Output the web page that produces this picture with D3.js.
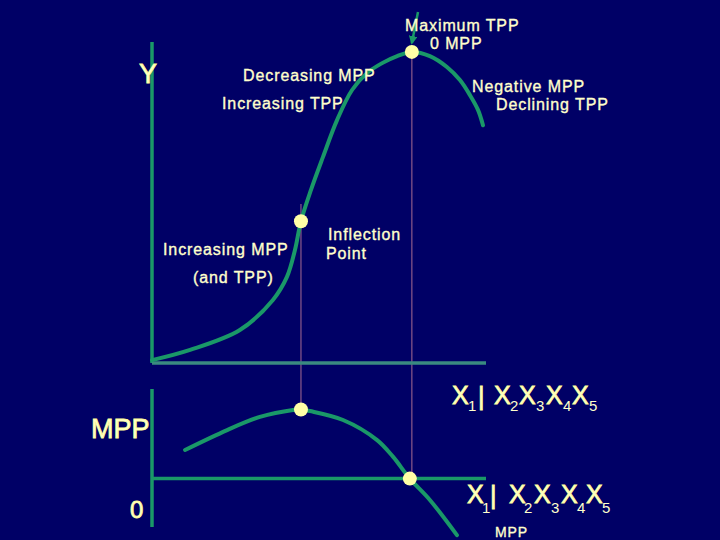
<!DOCTYPE html>
<html>
<head>
<meta charset="utf-8">
<script src="https://cdn.jsdelivr.net/npm/d3@7"></script>
<style>
  html, body { margin:0; padding:0; background:#000066; }
  svg { display:block; }
  text { font-family: Arial, "Liberation Sans", sans-serif; fill:#ffffcc; }
</style>
</head>
<body>
<svg id="chart" width="720" height="540"></svg>
<script>
// --- data (input units 0..10, TPP 0..100, MPP -27..50) ----------------------
const tppX = [0, 1.14, 2.63, 3.62, 4.04, 4.28, 4.46, 4.76, 5.12, 5.54, 5.99, 6.44, 6.89, 7.34, 7.78, 8.32, 8.83, 9.22, 9.52, 9.76, 9.91];
const tppY = [0.6, 3.8, 10, 19.4, 26.6, 35, 44, 53.8, 64.1, 75.6, 85, 90.3, 93.4, 95.6, 96.9, 95.6, 92.2, 88.1, 83.4, 78.8, 74];

const mppX = [0.99, 2.25, 3.23, 4.22, 4.46, 4.73, 5.72, 6.74, 7.22, 7.72, 8.32, 9.13];
const mppY = [16, 27.1, 34.4, 38.3, 38.6, 37.7, 32.7, 21.5, 12.1, 0, -11.9, -31.5];

const inflectionX = 4.46, maxX = 7.78;
const subs = ["1", "2", "3", "4", "5"];

// --- scales ------------------------------------------------------------------
const svg = d3.select('#chart');
const x  = d3.scaleLinear().domain([0, 10]).range([152, 486]);
const yT = d3.scaleLinear().domain([0, 100]).range([362, 42]);
const yM = d3.scaleLinear().domain([-27, 50]).range([527, 389]);

const GREEN = '#1a9868', GUIDE = '#8c5a8a', DOT = '#ffffa6';

svg.append('rect').attr('width', 720).attr('height', 540).attr('fill', '#000066');

// guide lines (drawn first, under curves)
svg.append('line').attr('x1', x(inflectionX)).attr('x2', x(inflectionX))
  .attr('y1', 204).attr('y2', yM(38.6)).attr('stroke', GUIDE).attr('stroke-width', 1.2);
svg.append('line').attr('x1', x(maxX)).attr('x2', x(maxX))
  .attr('y1', yT(96.9)).attr('y2', yM(0)).attr('stroke', GUIDE).attr('stroke-width', 1.2);

// axes
const axis = (x1, y1, x2, y2, c) => svg.append('line')
  .attr('x1', x1).attr('y1', y1).attr('x2', x2).attr('y2', y2)
  .attr('stroke', c).attr('stroke-width', 3.5);
axis(x(0), yT(0) + 1, x(0), yT(100), GREEN);
axis(x(0), yT(0) + 1, x(10), yT(0) + 1, '#3a8a80');
axis(x(0), yM(50), x(0), yM(-27), GREEN);
axis(x(0), yM(0), x(10), yM(0), GREEN);

// curves
const line = d3.line().curve(d3.curveCatmullRom.alpha(0.5));
svg.append('path')
  .attr('d', line(tppX.map((v, i) => [x(v), yT(tppY[i])])))
  .attr('fill', 'none').attr('stroke', GREEN).attr('stroke-width', 4).attr('stroke-linecap', 'round');
svg.append('path')
  .attr('d', line(mppX.map((v, i) => [x(v), yM(mppY[i])])))
  .attr('fill', 'none').attr('stroke', GREEN).attr('stroke-width', 4).attr('stroke-linecap', 'round');

// arrow to the maximum
svg.append('defs').append('marker')
  .attr('id', 'head').attr('viewBox', '0 0 10 10').attr('refX', 8).attr('refY', 5)
  .attr('markerWidth', 3.5).attr('markerHeight', 3.5).attr('orient', 'auto')
  .append('path').attr('d', 'M0,0L10,5L0,10z').attr('fill', GREEN);
svg.append('line').attr('x1', 418).attr('y1', 12).attr('x2', x(maxX)).attr('y2', yT(96.9) - 9)
  .attr('stroke', GREEN).attr('stroke-width', 2.5).attr('marker-end', 'url(#head)');

// points
const dots = [[x(maxX), yT(96.9)], [x(inflectionX), yT(44)], [x(inflectionX), yM(38.6)], [x(7.72), yM(0)]];
svg.selectAll('circle.pt').data(dots).join('circle').attr('class', 'pt')
  .attr('cx', d => d[0]).attr('cy', d => d[1]).attr('r', 7).attr('fill', DOT);

// --- annotations ---------------------------------------------------------------
const label = (t, px, py, size) => svg.append('text').attr('x', px).attr('y', py)
  .attr('font-size', size).attr('letter-spacing', 0.9)
  .attr('stroke', '#ffffcc').attr('stroke-width', 0.35).text(t);
label('Maximum TPP', 405, 31, 16);
label('0 MPP', 430, 49, 16);
label('Decreasing MPP', 243, 81, 16);
label('Increasing TPP', 222, 109, 16);
label('Negative MPP', 472, 92, 16);
label('Declining TPP', 496, 110, 16);
label('Increasing MPP', 163, 255, 16);
label('(and TPP)', 193, 283, 16);
label('Inflection', 328, 240, 16);
label('Point', 326, 259, 16);
label('MPP', 495, 537, 14);

const big = (t, px, py, size) => svg.append('text').attr('x', px).attr('y', py)
  .attr('font-size', size).attr('fill', '#ffff99')
  .attr('stroke', '#ffff99').attr('stroke-width', 0.8).text(t);
big('Y', 139, 83, 27);
big('MPP', 91, 438, 27);
big('0', 130, 518, 24);

// X1 | X2 X3 X4 X5 rows
function xRow(xs, subX, barX, base, subBase) {
  xs.forEach((px, i) => {
    big('X', px, base, 25);
    svg.append('text').attr('x', subX[i]).attr('y', subBase).attr('font-size', 15)
      .attr('fill', '#fffff0').attr('font-family', 'DejaVu Sans, sans-serif')
      .style('font-weight', 200).text(subs[i]);
  });
  big('|', barX, base + 1, 25);
}
xRow([452, 494, 519, 546, 572], [468, 510, 536, 563, 589], 478, 404, 411);
xRow([467, 509, 534, 561, 586], [482, 524, 551, 577, 602], 490, 503, 513);
</script>
</body>
</html>
